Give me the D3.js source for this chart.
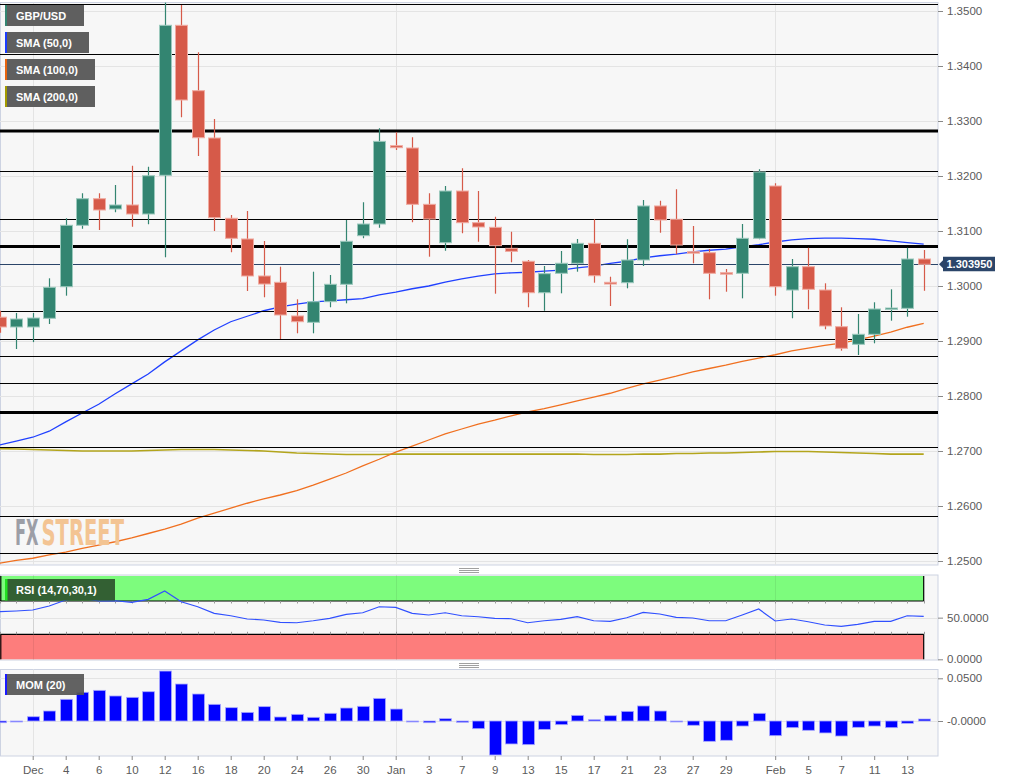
<!DOCTYPE html>
<html><head><meta charset="utf-8">
<script src="https://cdn.jsdelivr.net/npm/d3@7"></script>
<style>
body{margin:0;background:#fff;}
svg{display:block;font-family:"Liberation Sans",Arial,sans-serif;}
</style>
</head><body>
<svg id="c" width="1015" height="782"></svg>
<script>
const dates = ["2019-11-28","2019-11-29","2019-12-02","2019-12-03","2019-12-04","2019-12-05","2019-12-06",
"2019-12-09","2019-12-10","2019-12-11","2019-12-12","2019-12-13","2019-12-16","2019-12-17","2019-12-18","2019-12-19","2019-12-20",
"2019-12-23","2019-12-24","2019-12-25","2019-12-26","2019-12-27","2019-12-30","2019-12-31","2020-01-01","2020-01-02","2020-01-03",
"2020-01-06","2020-01-07","2020-01-08","2020-01-09","2020-01-10","2020-01-13","2020-01-14","2020-01-15","2020-01-16","2020-01-17",
"2020-01-20","2020-01-21","2020-01-22","2020-01-23","2020-01-24","2020-01-27","2020-01-28","2020-01-29","2020-01-30","2020-01-31",
"2020-02-03","2020-02-04","2020-02-05","2020-02-06","2020-02-07","2020-02-10","2020-02-11","2020-02-12","2020-02-13","2020-02-14"];
const open  = [1.29433,1.29255,1.29255,1.29413,1.29987,1.31104,1.31587,1.31400,1.31473,1.31309,1.32013,1.34740,1.33551,1.32691,1.31231,1.30855,1.30182,1.30067,1.29455,1.29340,1.29715,1.30031,1.30915,1.31127,1.32551,1.32509,1.31485,1.30787,1.31727,1.31151,1.31067,1.30685,1.30449,1.29878,1.30231,1.30413,1.30776,1.30067,1.30060,1.30473,1.31455,1.31213,1.30624,1.30605,1.30242,1.30231,1.30867,1.31818,1.29927,1.30351,1.29927,1.29260,1.28940,1.29122,1.29582,1.29594,1.30491];
const high  = [1.29550,1.29510,1.29510,1.30140,1.31231,1.31685,1.31685,1.31836,1.32187,1.32169,1.35158,1.35109,1.34249,1.33036,1.31291,1.31364,1.30818,1.30351,1.29758,1.30260,1.30200,1.31200,1.31522,1.32867,1.32794,1.32704,1.31685,1.31818,1.32140,1.31727,1.31260,1.30987,1.30473,1.30364,1.30636,1.30855,1.31213,1.30169,1.30849,1.31564,1.31551,1.31758,1.31090,1.30673,1.30309,1.31127,1.32122,1.31867,1.30491,1.30696,1.30049,1.29613,1.29491,1.29704,1.29940,1.30696,1.30655];
const low   = [1.29150,1.28855,1.28980,1.29309,1.29824,1.31042,1.31018,1.31340,1.31078,1.31122,1.30522,1.33067,1.32364,1.31000,1.30613,1.29909,1.29795,1.29036,1.29140,1.29140,1.29613,1.29685,1.30867,1.31060,1.32473,1.31158,1.30533,1.30642,1.30958,1.30805,1.29860,1.30431,1.29613,1.29550,1.29867,1.30260,1.30060,1.29636,1.29958,1.30364,1.30969,1.30576,1.30413,1.29758,1.29896,1.29776,1.30849,1.29824,1.29413,1.29576,1.29213,1.28824,1.28745,1.28958,1.29369,1.29442,1.29913];
const close = [1.29255,1.29400,1.29418,1.29976,1.31104,1.31587,1.31382,1.31473,1.31309,1.32005,1.34740,1.33382,1.32696,1.31242,1.30867,1.30182,1.30036,1.29473,1.29351,1.29715,1.30031,1.30813,1.31127,1.32630,1.32515,1.31485,1.31218,1.31727,1.31151,1.31073,1.30733,1.30630,1.29878,1.30224,1.30413,1.30776,1.30187,1.30036,1.30473,1.31455,1.31200,1.30745,1.30605,1.30231,1.30218,1.30867,1.32073,1.29987,1.30351,1.29940,1.29273,1.28867,1.29122,1.29582,1.29600,1.30491,1.30395];
const sma50  = [1.2711,1.2718,1.2725,1.2736,1.2753,1.2769,1.2785,1.2804,1.2822,1.2840,1.2862,1.2882,1.2902,1.2920,1.2935,1.2945,1.2955,1.2962,1.2967,1.2971,1.2973,1.2975,1.2977,1.2984,1.2989,1.2995,1.3000,1.3007,1.3013,1.3018,1.3022,1.3024,1.3025,1.3027,1.3029,1.3033,1.3036,1.3041,1.3045,1.3051,1.3055,1.3058,1.3062,1.3065,1.3067,1.3071,1.3075,1.3080,1.3084,1.3086,1.3087,1.3087,1.3086,1.3085,1.3082,1.3079,1.3076];
const sma100 = [1.2496,1.2501,1.2505,1.2511,1.2516,1.2523,1.2529,1.2535,1.2542,1.2550,1.2558,1.2567,1.2578,1.2587,1.2596,1.2605,1.2613,1.2620,1.2628,1.2638,1.2649,1.2660,1.2673,1.2685,1.2698,1.2709,1.2720,1.2731,1.2740,1.2749,1.2756,1.2764,1.2771,1.2777,1.2784,1.2791,1.2798,1.2805,1.2814,1.2822,1.2829,1.2836,1.2844,1.2850,1.2856,1.2863,1.2869,1.2875,1.2882,1.2887,1.2892,1.2896,1.2902,1.2909,1.2916,1.2925,1.2932];
const sma200 = [1.27045,1.27036,1.27027,1.27018,1.27009,1.27000,1.27000,1.27000,1.27000,1.27009,1.27018,1.27027,1.27027,1.27027,1.27018,1.27009,1.27000,1.26982,1.26964,1.26955,1.26945,1.26936,1.26936,1.26936,1.26945,1.26945,1.26945,1.26945,1.26945,1.26945,1.26945,1.26945,1.26945,1.26945,1.26945,1.26945,1.26936,1.26936,1.26936,1.26945,1.26945,1.26955,1.26955,1.26964,1.26964,1.26973,1.26982,1.26991,1.26991,1.26991,1.26982,1.26973,1.26964,1.26955,1.26945,1.26945,1.26945];
const rsi = [57.1,58.0,59.2,64.0,71.2,73.2,70.0,70.3,68.4,72.0,82.0,69.1,63.1,55.2,52.3,48.4,47.2,44.4,43.9,46.3,49.2,54.0,55.9,63.1,62.4,55.2,53.2,55.9,52.3,51.1,49.2,48.7,43.9,46.3,48.0,51.1,46.3,45.6,49.9,56.4,54.4,50.4,49.6,46.3,46.3,53.2,60.4,46.0,48.4,45.1,41.2,39.6,42.0,45.6,45.6,52.3,51.6];
const mom = [-0.0020,-0.0010,0.0050,0.0117,0.0254,0.0336,0.0359,0.0293,0.0277,0.0343,0.0585,0.0433,0.0316,0.0195,0.0156,0.0101,0.0168,0.0047,0.0078,0.0043,0.0090,0.0152,0.0172,0.0265,0.0140,-0.0010,-0.0020,0.0027,-0.0015,-0.0090,-0.0398,-0.0269,-0.0277,-0.0098,-0.0043,0.0066,0.0015,0.0062,0.0113,0.0176,0.0117,-0.0008,-0.0050,-0.0238,-0.0226,-0.0059,0.0090,-0.0172,-0.0078,-0.0109,-0.0140,-0.0176,-0.0074,-0.0059,-0.0078,-0.0027,0.0023];
const levelsThin  = [1.3512,1.3422,1.3210,1.3121,1.2954,1.2904,1.2873,1.2823,1.2708,1.2582,1.2515];
const levelsThick = [1.3282,1.3072,1.2770];
const priceTicks = [1.25,1.26,1.27,1.28,1.29,1.30,1.31,1.32,1.33,1.34,1.35];
const rsiTicks = [0,50];
const momTicks = [0.05,0];
const momTickLabels = ["0.0500","-0.0000"];
const dateTicks = ["2019-12-02","2019-12-04","2019-12-06","2019-12-10","2019-12-12","2019-12-16","2019-12-18","2019-12-20","2019-12-24","2019-12-26","2019-12-30","2020-01-01","2020-01-03","2020-01-07","2020-01-09","2020-01-13","2020-01-15","2020-01-17","2020-01-21","2020-01-23","2020-01-27","2020-01-29","2020-02-03","2020-02-05","2020-02-07","2020-02-11","2020-02-13"];
const dateTickLabels = ["Dec","4","6","10","12","16","18","20","24","26","30","Jan","3","7","9","13","15","17","21","23","27","29","Feb","5","7","11","13"];
const monthStarts = ["2019-12-02","2020-01-01","2020-02-03"];
const legendItems = ["GBP/USD","SMA (50,0)","SMA (100,0)","SMA (200,0)"];
const legendColors = ["#338571","#1a3cff","#e8650f","#a39a00"];
const legendWidths = [79, 84, 90, 90];

const svg = d3.select("#c");
const W = 938;
const main = {top:2.5, bottom:565};
const rsiP = {top:575, bottom:660};
const momP = {top:669.5, bottom:756};
const border = "#cdd3e2", grid = "#e4e4e4", bg = "#f7f7f7";
const GREEN = "#338571", RED = "#d65a49";

const x = d3.scalePoint().domain(dates).range([-0.3, 923.7]);
const y = d3.scaleLinear().domain([1.25,1.35]).range([561,11]);
const yr = d3.scaleLinear().domain([0,100]).range([659.3,576]);
const ym = d3.scaleLinear().domain([0,0.05]).range([721,678.3]);

const defs = svg.append("defs");
[["cm",main],["cr",rsiP],["cmo",momP]].forEach(([id,p])=>{
  defs.append("clipPath").attr("id",id).append("rect").attr("x",0).attr("y",p.top).attr("width",W).attr("height",p.bottom-p.top);
});

// panel backgrounds
[main,rsiP,momP].forEach(p=>{
  svg.append("rect").attr("x",0.5).attr("y",p.top).attr("width",W-0.5).attr("height",p.bottom-p.top)
    .attr("fill",bg).attr("stroke",border).attr("stroke-width",1);
});

// gridlines main
const gm = svg.append("g").attr("clip-path","url(#cm)");
gm.selectAll(".hg").data(priceTicks).join("line").attr("x1",0).attr("x2",W)
  .attr("y1",d=>Math.round(y(d))+0.5).attr("y2",d=>Math.round(y(d))+0.5).attr("stroke",grid);
[[gm,main],[svg.append("g"),rsiP],[svg.append("g"),momP]].forEach(([g,p])=>{
  g.selectAll(".vg").data(monthStarts).join("line").attr("x1",d=>Math.round(x(d))+0.5).attr("x2",d=>Math.round(x(d))+0.5)
   .attr("y1",p.top).attr("y2",p.bottom).attr("stroke",grid);
});

// SMA lines
const line = arr => d3.line().x((d,i)=>x(dates[i])).y(d=>y(d))(arr);
gm.append("path").attr("d",line(sma200)).attr("fill","none").attr("stroke","#b3a51c").attr("stroke-width",1.7);
gm.append("path").attr("d",line(sma100)).attr("fill","none").attr("stroke","#f07020").attr("stroke-width",1.3);
gm.append("path").attr("d",line(sma50)).attr("fill","none").attr("stroke","#2040ff").attr("stroke-width",1.3);

// level lines
gm.selectAll(".lt").data(levelsThin).join("line").attr("x1",0).attr("x2",W)
  .attr("y1",d=>Math.round(y(d))+0.5).attr("y2",d=>Math.round(y(d))+0.5).attr("stroke","#000").attr("stroke-width",1.2);
gm.selectAll(".lk").data(levelsThick).join("line").attr("x1",0).attr("x2",W)
  .attr("y1",d=>y(d)).attr("y2",d=>y(d)).attr("stroke","#000").attr("stroke-width",3);

// current price line
const last = close[close.length-1];
gm.append("line").attr("x1",0).attr("x2",W).attr("y1",Math.round(y(last))+0.5).attr("y2",Math.round(y(last))+0.5)
  .attr("stroke","#2b4569").attr("stroke-width",1);

// logo: each part scaled to its width
[["FX","#9c9ea6",15,23.5],["STREET","#f3c493",41.5,82.5]].forEach(([t,c,x0,w])=>{
  const g = svg.append("g");
  const tx = g.append("text").attr("x",0).attr("y",0)
    .attr("font-family","'DejaVu Sans Condensed','DejaVu Sans',sans-serif").attr("font-weight","bold").attr("font-size",26)
    .attr("fill",c).text(t);
  const n = tx.node().getComputedTextLength();
  g.attr("transform",`translate(${x0},545) scale(${w/n},1.37)`);
});

// candles
const cg = gm.append("g");
dates.forEach((d,i)=>{
  const up = close[i] >= open[i];
  const col = up ? GREEN : RED;
  const cx = Math.round(x(d)) + 0.5;
  cg.append("line").attr("x1",cx).attr("x2",cx).attr("y1",y(high[i])).attr("y2",y(low[i])).attr("stroke",col).attr("stroke-width",1.2);
  const t = y(Math.max(open[i],close[i])), b = y(Math.min(open[i],close[i]));
  const h = Math.max(b-t, 1.5);
  cg.append("rect").attr("x",cx-6).attr("y",t).attr("width",12).attr("height",h)
    .attr("fill",col).attr("stroke",up?"#9cc9bd":"#f0aaa0").attr("stroke-width",1);
});

// price axis
const axStyle = g => {
  g.select(".domain").remove();
  g.selectAll(".tick line").attr("stroke","#888");
  g.selectAll(".tick text").attr("fill","#5a5a5a").attr("font-size",11.5);
};
svg.append("g").attr("transform",`translate(${W},0)`)
  .call(d3.axisRight(y).tickValues(priceTicks).tickFormat(d3.format(".4f")).tickSize(5).tickPadding(4)).call(axStyle);

// price label
const py = y(last);
svg.append("path").attr("d",`M${W+1},${py} L${W+5},${py-4} L${W+5},${py-7.5} L995,${py-7.5} L995,${py+7} L${W+5},${py+7} L${W+5},${py+4} Z`)
  .attr("fill","#2b4569");
svg.append("text").attr("x",946.5).attr("y",py+4).attr("fill","#fff").attr("font-size",11).attr("font-weight","bold").text(d3.format(".6f")(last));

// legend
legendItems.forEach((t,i)=>{
  const g = svg.append("g").attr("transform",`translate(5,${5+i*27})`);
  g.append("rect").attr("x",0).attr("y",0).attr("width",legendWidths[i]).attr("height",21).attr("fill","#5f5f5f");
  g.append("rect").attr("x",0).attr("y",0).attr("width",2).attr("height",21).attr("fill",legendColors[i]);
  g.append("text").attr("x",11).attr("y",14.8).attr("fill","#fff").attr("font-size",11).attr("font-weight","bold").text(t);
});

// separators (drag handles)
[570, 665].forEach(yy=>{
  [0,2,4].forEach(o=>svg.append("line").attr("x1",459).attr("x2",479).attr("y1",yy-2+o+0.5).attr("y2",yy-2+o+0.5).attr("stroke","#888").attr("stroke-width",0.8));
});

// RSI panel
const gr = svg.append("g").attr("clip-path","url(#cr)");
const x0 = x(dates[0]), x1 = x(dates[dates.length-1]);
gr.append("rect").attr("x",x0).attr("y",yr(100)).attr("width",x1-x0).attr("height",yr(70)-yr(100)).attr("fill","#7dfc7d");
gr.append("rect").attr("x",x0).attr("y",yr(30)).attr("width",x1-x0).attr("height",yr(0)-yr(30)).attr("fill","#fd7d7c");
gr.selectAll(".rg").data(monthStarts).join("line").attr("x1",d=>Math.round(x(d))+0.5).attr("x2",d=>Math.round(x(d))+0.5)
  .attr("y1",rsiP.top).attr("y2",rsiP.bottom).attr("stroke","rgba(0,0,0,0.07)");
gr.append("line").attr("x1",x0).attr("x2",x1).attr("y1",yr(70)).attr("y2",yr(70)).attr("stroke","#000").attr("stroke-width",1.2);
gr.append("line").attr("x1",x0).attr("x2",x1).attr("y1",yr(30)).attr("y2",yr(30)).attr("stroke","#000").attr("stroke-width",1.2);
[[100,70],[30,0]].forEach(([a,b])=>{
  gr.append("line").attr("x1",x1).attr("x2",x1).attr("y1",yr(a)).attr("y2",yr(b)).attr("stroke","#000").attr("stroke-width",1.2);
  gr.append("line").attr("x1",0.8).attr("x2",0.8).attr("y1",yr(a)).attr("y2",yr(b)).attr("stroke","#000").attr("stroke-width",1.2);
});
gr.selectAll(".t70").data(dates).join("line").attr("x1",d=>Math.round(x(d))+0.5).attr("x2",d=>Math.round(x(d))+0.5)
  .attr("y1",yr(70)).attr("y2",yr(70)+2.5).attr("stroke","#999");
gr.selectAll(".t30").data(dates).join("line").attr("x1",d=>Math.round(x(d))+0.5).attr("x2",d=>Math.round(x(d))+0.5)
  .attr("y1",yr(30)-2.5).attr("y2",yr(30)).attr("stroke","#999");
gr.append("line").attr("x1",0).attr("x2",W).attr("y1",Math.round(yr(50))+0.5).attr("y2",Math.round(yr(50))+0.5).attr("stroke",grid);
gr.append("path").attr("d",d3.line().x((d,i)=>x(dates[i])).y(d=>yr(d))(rsi)).attr("fill","none").attr("stroke","#3050ff").attr("stroke-width",1.2);
svg.append("g").attr("transform",`translate(${W},0)`)
  .call(d3.axisRight(yr).tickValues(rsiTicks).tickFormat(d3.format(".4f")).tickSize(5).tickPadding(4)).call(axStyle);
{
  const g = svg.append("g").attr("transform","translate(5,579)");
  g.append("rect").attr("width",110).attr("height",21.5).attr("fill","#336033");
  g.append("rect").attr("width",2.5).attr("height",21.5).attr("fill","#22e022");
  g.append("text").attr("x",11).attr("y",15).attr("fill","#fff").attr("font-size",11).attr("font-weight","bold").text("RSI (14,70,30,1)");
}

// MOM panel
const gmo = svg.append("g").attr("clip-path","url(#cmo)");
gmo.selectAll(".mg").data(momTicks).join("line").attr("x1",0).attr("x2",W)
  .attr("y1",d=>Math.round(ym(d))+0.5).attr("y2",d=>Math.round(ym(d))+0.5).attr("stroke",grid);
gmo.selectAll(".mb").data(mom).join("rect")
  .attr("x",(d,i)=>Math.round(x(dates[i]))-5.5)
  .attr("width",12)
  .attr("y",d=>Math.min(ym(d),ym(0)))
  .attr("height",d=>Math.max(Math.abs(ym(d)-ym(0)),1))
  .attr("fill","#0000ff").attr("stroke","#a8a8ff").attr("stroke-width",0.8);
svg.append("g").attr("transform",`translate(${W},0)`)
  .call(d3.axisRight(ym).tickValues(momTicks).tickFormat((d,i)=>momTickLabels[i]).tickSize(5).tickPadding(4)).call(axStyle);
{
  const g = svg.append("g").attr("transform","translate(5,674)");
  g.append("rect").attr("width",79).attr("height",21).attr("fill","rgba(85,85,85,0.92)");
  g.append("rect").attr("width",2).attr("height",21).attr("fill","#1a1aff");
  g.append("text").attr("x",11).attr("y",14.8).attr("fill","#fff").attr("font-size",11).attr("font-weight","bold").text("MOM (20)");
}

// x axis
const lab = new Map(dateTicks.map((d,i)=>[d,dateTickLabels[i]]));
svg.append("g").attr("transform",`translate(0,${momP.bottom})`)
  .call(d3.axisBottom(x).tickValues(dateTicks).tickFormat(d=>lab.get(d)).tickSize(4).tickPadding(6)).call(axStyle);
</script>
</body></html>
